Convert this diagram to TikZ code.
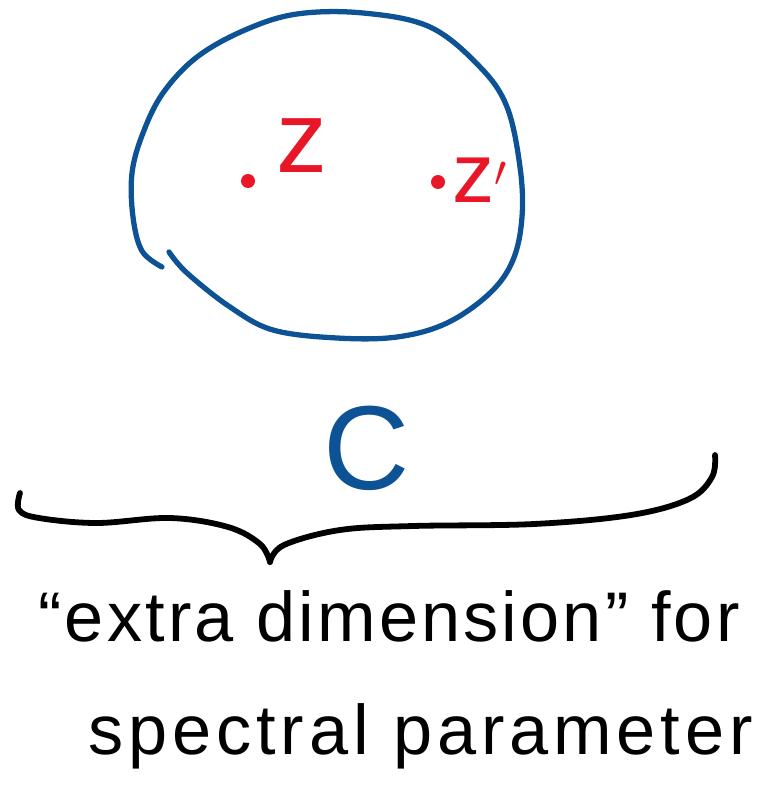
\documentclass[tikz,border=0pt]{standalone}
\usepackage{fontspec}
\setmainfont{Liberation Sans}
\usepackage{xcolor}
\usetikzlibrary{positioning}

\definecolor{penblue}{RGB}{12,82,148}
\definecolor{penred}{RGB}{232,22,38}

\begin{document}
\begin{tikzpicture}[
    x=0.02cm, y=-0.02cm,
    bluepen/.style={draw=penblue, line width=3pt, line cap=round, line join=round},
    blackpen/.style={draw=black, line width=3.3pt, line cap=round, line join=round},
    pointdot/.style={circle, fill=penred, inner sep=0pt, minimum size=0.28cm},
    pointlabel/.style={text=penred, inner sep=0pt, font=\fontsize{58}{58}\selectfont},
    caption/.style={inner sep=0pt, anchor=base west, font=\fontsize{40}{44}\selectfont\addfontfeature{LetterSpace=7}}
]
    \useasboundingbox (0,0) rectangle (758,790);

    % the disc (left open at the lower left)
    \draw[bluepen] plot[smooth, tension=0.6] coordinates {
        (162,267) (142,251) (133,217) (132,173) (143,133) (163,93) (197,57)
        (245,30) (297,14) (363,13) (430,27) (480,67) (507,107) (520,167)
        (522,217) (513,260) (490,293) (447,323) (397,337) (337,338)
        (273,330) (230,307) (187,273) (169,252)};

    % the two points
    \node[pointdot] (z) at (248,181) {};
    \node[pointdot] (zp) at (438,182) {};
    \node[pointlabel] (zlab) at (302,146) {z};
    \node[pointlabel, font=\fontsize{48}{48}\selectfont] (zplab) at (480,180) {z$'$};

    % the plane
    \node[text=penblue, inner sep=0pt, font=\fontsize{68}{68}\selectfont] (cplane) at (367,448) {C};

    % brace
    \draw[blackpen] plot[smooth, tension=0.6] coordinates {
        (20,493) (19,510) (39,518) (97,523) (170,518) (228,527) (260,544) (270,562)};
    \draw[blackpen] plot[smooth, tension=0.6] coordinates {
        (270,562) (284,545) (340,530) (413,526) (534,524) (631,515) (689,499)
        (712,477) (715,455)};

    % caption
    \node[caption, font=\fontsize{40}{44}\selectfont\addfontfeature{LetterSpace=4.5}] (line1) at (38,641) {“extra dimension” for};
    \node[caption] (line2) at (88,754) {spectral parameter};
\end{tikzpicture}
\end{document}
